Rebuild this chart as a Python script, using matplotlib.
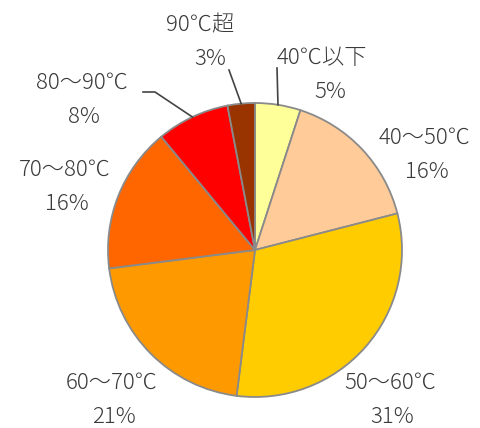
import numpy as np
import matplotlib.pyplot as plt

plt.rcParams['font.family'] = ['Noto Sans CJK JP', 'DejaVu Sans']

# water temperature share
labels = ["40℃以下", "40～50℃", "50～60℃", "60～70℃", "70～80℃", "80～90℃", "90℃超"]
shares = [5, 16, 31, 21, 16, 8, 3]
colors = ["#FFFF99", "#FFCC99", "#FFCC00", "#FF9900", "#FF6600", "#FF0000", "#993300"]

# label placement in pixels (text centre of first line), and which ones get a leader line
W, H = 481, 428
label_xy = [(322, 58), (425, 138), (390, 383), (112, 383), (65, 170), (82, 83), (200, 25)]
pct_dx = [8, 2, 2, 2, 2, 2, 10]
leader_start = [(277, 68), None, None, None, None, (143, 92), (229, 70)]

CX, CY, R = 255, 250, 147

fig = plt.figure(figsize=(W / 100, H / 100), dpi=100)
ax = fig.add_axes([0, 0, 1, 1])
ax.axis("off")

wedges, _ = ax.pie(shares, colors=colors, startangle=90, counterclock=False,
                   center=(CX, H - CY), radius=R,
                   wedgeprops=dict(edgecolor="#8a8a8a", linewidth=1.3))
ax.set_xlim(0, W)
ax.set_ylim(0, H)

txt = dict(ha="center", va="center", fontsize=16, color="#3a3a3a", fontweight="light")
for w, lab, val, (tx, ty), dx, start in zip(wedges, labels, shares, label_xy, pct_dx, leader_start):
    ax.text(tx, H - ty, lab, **txt)
    ax.text(tx + dx, H - ty - 34, f"{val}%", **txt)
    if start is None:
        continue
    mid = np.deg2rad((w.theta1 + w.theta2) / 2)
    ex = CX + R * np.cos(mid)
    ey = H - CY + R * np.sin(mid)
    sx, sy = start
    if lab == "80～90℃":
        xs, ys = [sx, sx + 12, ex], [H - sy, H - sy, ey]
    else:
        xs, ys = [sx, ex], [H - sy, ey]
    ax.plot(xs, ys, color="#444444", linewidth=1.2)

fig.savefig("out.png", dpi=100)
